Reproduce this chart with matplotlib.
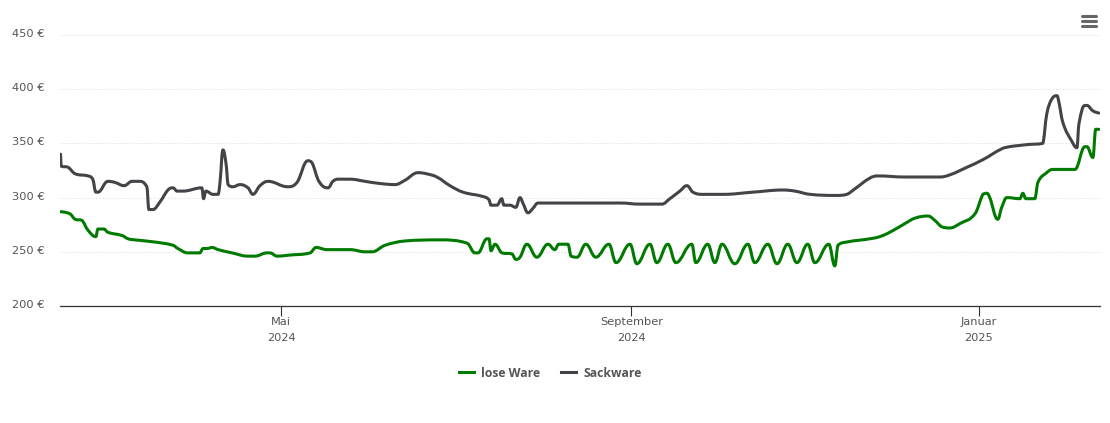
import matplotlib
matplotlib.use("Agg")
import matplotlib.pyplot as plt
import matplotlib.dates as mdates
import pandas as pd
import numpy as np
from matplotlib.lines import Line2D
from matplotlib.path import Path
from matplotlib.patches import PathPatch
from matplotlib.transforms import ScaledTranslation

# Days after the left edge of the chart, price in euro
START = "2024-02-13 09:36"
END = "2025-02-12 12:00"

lose_days = [0.2, 3.5, 5.3, 7.7, 9.8, 12.6, 13.3, 15.4, 16.8, 21.8, 23.9, 26.3, 33.3, 39.7, 41.4, 44.9,
             49.1, 50.2, 51.6, 53.4, 55.5, 60.4, 66, 68.4, 72.7, 73.7, 76.2, 80.7, 87.8, 89.9, 93.7, 98.3,
             101.8, 107.1, 109.5, 114.1, 121.1, 133.4, 142.9, 145.7, 146.7, 149.9, 150.6, 151.3, 152.7,
             155.1, 158.7, 160, 161.5, 163.9, 167.4, 171.3, 173.7, 175.1, 178.3, 179.4, 181.5, 184.6,
             188.1, 192.7, 195.2, 200.1, 202.5, 207.1, 209.5, 213.4, 216.2, 221.8, 223.2, 227.4, 229.9,
             232.4, 236.9, 241.5, 243.9, 248.5, 251.7, 255.5, 258.7, 262.5, 265, 269.9, 272, 273.1, 276.2,
             284.3, 287.8, 291.3, 296.6, 300.1, 304.7, 307.1, 309.6, 312.4, 315.9, 321.2, 324, 325.4,
             326.4, 329.2, 330.6, 332.4, 337, 338, 339.1, 342.2, 343.3, 346.4, 348.5, 356.3, 359.8, 360.5,
             362.6, 363.6, 364.7]
lose_price = [287, 285, 280, 279, 270, 264, 271, 271, 268, 265, 262, 261, 259, 256, 253, 249,
              249, 253, 253, 254, 252, 249, 246, 246, 249, 249, 246, 247, 249, 254, 252, 252,
              252, 250, 250, 256, 260, 261, 258, 249, 249, 262, 262, 251, 257,
              249, 248, 243, 245, 257, 245, 257, 252, 257, 257, 246, 245, 257,
              245, 257, 240, 257, 239, 257, 240, 257, 240, 257, 240, 257, 240,
              257, 239, 257, 240, 257, 239, 257, 240, 257, 240, 257, 237, 256, 259,
              262, 264, 268, 276, 281, 283, 279, 273, 272, 276, 285, 303, 304,
              300, 280, 291, 300, 299, 304, 299, 299, 314, 323, 326, 326, 347, 347,
              337, 363, 363]

sack_days = [0.2, 0.4, 2.8, 5.3, 9.8, 11.5, 12.6, 13.3, 16.8, 19.3, 22.5, 25.3, 27.7, 30.5, 31.2, 32.6,
             35.1, 37.9, 39.7, 41.1, 43.2, 49.8, 50.4, 51.2, 53.7, 55.5, 56.2, 57.2, 58.3, 59, 60.7,
             63.2, 66, 67.7, 70.2, 73, 80, 83.2, 87, 88.5, 90.9, 94.1, 95.8, 97.6, 101.8, 107.1, 112.3,
             117.6, 121.1, 125.7, 128.6, 132.3, 136.9, 141.5, 148.5, 150.6, 151.3, 153.4, 155.1, 155.8,
             158, 160, 161.5, 162.5, 164.3, 166, 167.8, 180, 196.6, 203.6, 211.3, 214.1, 217.6, 220.1,
             222.2, 225.7, 232.7, 243.2, 253.8, 258, 263.3, 272.7, 276.2, 279, 284.3, 287.1, 296.6, 308.9,
             312.4, 318.4, 324, 330.6, 333.5, 336.5, 340, 345, 346.4, 348.2, 350, 350.6, 352.1, 355.2, 357, 357.7,
             359.8, 360.5, 362.6, 364.7]
sack_price = [340, 329, 328, 322, 320, 317, 305, 305, 315, 314, 311, 315, 315, 310, 289, 289,
              296, 307, 309, 306, 306, 309, 299, 306, 303, 303, 315, 344, 331, 312, 310,
              312, 309, 303, 311, 315, 310, 314, 334, 332, 315, 309, 315, 317, 317, 315, 313,
              312, 316, 323, 322, 319, 311, 305, 301, 298, 293, 293, 299, 293,
              293, 291, 300, 295, 286, 290, 295, 295, 295, 294, 294, 299, 306, 311,
              305, 303, 303, 305, 307, 306, 303, 302, 303, 308, 318, 320, 319, 319,
              321, 328, 335, 345, 347, 348, 349, 350, 377, 391, 394, 389, 369, 352, 346, 368,
              385, 385, 380, 378]

y_ticks = [200, 250, 300, 350, 400, 450]
x_ticks = ["2024-05-01", "2024-09-01", "2025-01-01"]
x_labels = ["Mai\n2024", "September\n2024", "Januar\n2025"]

GREEN = "#007a00"
GRAY = "#434348"
TEXT = "#555555"


def spline_path(x, y, smoothing=1.5):
    # same idea as a web chart spline: curve through every point
    verts = [(x[0], y[0])]
    codes = [Path.MOVETO]
    left = []
    right = []
    n = len(x)
    for i in range(n):
        if i == 0 or i == n - 1:
            left.append((x[i], y[i]))
            right.append((x[i], y[i]))
            continue
        lx = (smoothing * x[i] + x[i - 1]) / (smoothing + 1)
        ly = (smoothing * y[i] + y[i - 1]) / (smoothing + 1)
        rx = (smoothing * x[i] + x[i + 1]) / (smoothing + 1)
        ry = (smoothing * y[i] + y[i + 1]) / (smoothing + 1)
        slope = (ly - ry) / (lx - rx) if lx != rx else 0
        # flat tops at local extremes
        if (y[i] >= y[i - 1] and y[i] >= y[i + 1]) or (y[i] <= y[i - 1] and y[i] <= y[i + 1]):
            slope = 0
        # keep control points between neighbours so the curve doesn't overshoot
        cl = np.clip(y[i] + slope * (lx - x[i]), min(y[i - 1], y[i]), max(y[i - 1], y[i]))
        cr = np.clip(y[i] + slope * (rx - x[i]), min(y[i + 1], y[i]), max(y[i + 1], y[i]))
        left.append((lx, cl))
        right.append((rx, cr))
    for i in range(1, n):
        verts += [right[i - 1], left[i], (x[i], y[i])]
        codes += [Path.CURVE4, Path.CURVE4, Path.CURVE4]
    return Path(verts, codes)


fig = plt.figure(figsize=(11.1, 4.23), dpi=100)
ax = fig.add_axes([60 / 1110, 1 - 306 / 423, 1040 / 1110, 271 / 423])

start_num = mdates.date2num(pd.Timestamp(START))
for days, price, col in [(lose_days, lose_price, GREEN), (sack_days, sack_price, GRAY)]:
    xs = start_num + np.array(days, dtype=float)
    ax.add_patch(PathPatch(spline_path(xs, np.array(price, dtype=float)), fill=False,
                           edgecolor=col, lw=2.2, capstyle="round", joinstyle="round", zorder=3))

ax.set_xlim(start_num, mdates.date2num(pd.Timestamp(END)))
ax.set_ylim(200, 450)
ax.set_yticks(y_ticks)
ax.set_yticklabels([f"{v} €" for v in y_ticks])
ax.set_xticks([mdates.date2num(pd.Timestamp(d)) for d in x_ticks])
ax.set_xticklabels(x_labels, linespacing=1.75)

ax.grid(axis="y", color="#dedede", lw=0.8, linestyle=(0, (1, 1.7)))
ax.set_axisbelow(True)
for s in ["top", "right", "left"]:
    ax.spines[s].set_visible(False)
ax.spines["bottom"].set_color("#333333")
ax.spines["bottom"].set_linewidth(0.9)
ax.tick_params(axis="y", length=0, pad=11, labelsize=8.2, labelcolor=TEXT)
ax.tick_params(axis="x", length=7, width=0.8, color="#333333", pad=1.2, labelsize=8.2, labelcolor=TEXT)

# y labels sit a little above their grid lines
shift = ScaledTranslation(0, 1.5 / 72, fig.dpi_scale_trans)
for lab in ax.get_yticklabels():
    lab.set_transform(lab.get_transform() + shift)

handles = [Line2D([], [], color=GREEN, lw=2.2, label="lose Ware"),
           Line2D([], [], color=GRAY, lw=2.2, label="Sackware")]
leg = fig.legend(handles=handles, loc="center", bbox_to_anchor=(550 / 1110, 1 - 373 / 423), ncol=2,
                 frameon=False, handlelength=1.25, handletextpad=0.55, columnspacing=1.75,
                 prop={"size": 8.8, "weight": "bold", "family": "Open Sans"})
for t in leg.get_texts():
    t.set_color("#555555")

# menu icon, top right
for py in [16, 21, 26]:
    fig.add_artist(Line2D([1082 / 1110, 1096 / 1110], [1 - py / 423, 1 - py / 423],
                          color="#666666", lw=2.2, solid_capstyle="round"))

fig.savefig("out.png", dpi=100)
